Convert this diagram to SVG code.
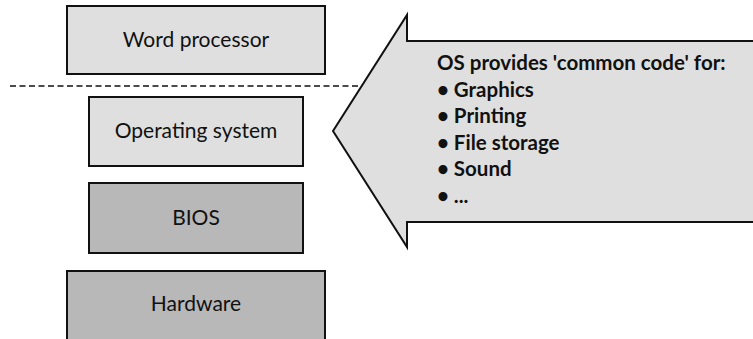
<svg xmlns="http://www.w3.org/2000/svg" width="753" height="339" viewBox="0 0 753 339">
<style>
.box{stroke:#111;stroke-width:2}
.light{fill:#dfdfdf}
.dark{fill:#b8b8b8}
.lbl{font-family:Lato,"Open Sans",sans-serif;font-size:21px;fill:#111;text-anchor:middle}
.cl{font-family:Lato,"Open Sans",sans-serif;font-size:20.5px;font-weight:bold;fill:#111}
</style>
<rect width="753" height="339" fill="#fff"/>
<g id="connectors">
<line x1="10" y1="86" x2="358" y2="86" stroke="#111" stroke-width="1.4" stroke-dasharray="6,3.5"/>
</g>
<g id="word-processor">
<rect class="box light" x="67" y="6" width="258" height="68"/>
<text class="lbl" x="196" y="47">Word processor</text>
</g>
<g id="operating-system">
<rect class="box light" x="89" y="97" width="214" height="69"/>
<text class="lbl" x="196" y="138">Operating system</text>
</g>
<g id="bios">
<rect class="box dark" x="89" y="183" width="214" height="70"/>
<text class="lbl" x="196" y="225">BIOS</text>
</g>
<g id="hardware">
<rect class="box dark" x="67" y="271" width="258" height="72"/>
<text class="lbl" x="196" y="311">Hardware</text>
</g>
<g id="callout">
<polygon class="box light" points="407,15 407,41 760,41 760,222 407,222 407,247 333,131"/>
<text class="cl" x="437" y="70">OS provides 'common code' for:</text>
<text class="cl" x="437" y="96.6">• Graphics</text>
<text class="cl" x="437" y="123.2">• Printing</text>
<text class="cl" x="437" y="149.8">• File storage</text>
<text class="cl" x="437" y="176.4">• Sound</text>
<text class="cl" x="437" y="203">• ...</text>
</g>
</svg>
